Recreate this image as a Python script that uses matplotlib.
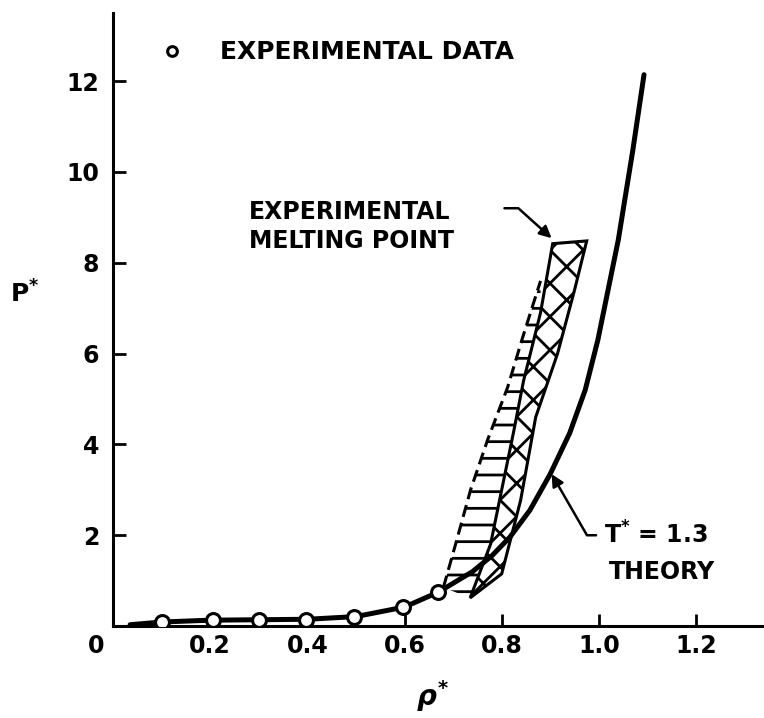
import matplotlib
matplotlib.use("Agg")
import matplotlib.pyplot as plt

# theory curve, T* = 1.3
theory_rho = [0.035, 0.10, 0.20, 0.30, 0.40, 0.50, 0.60, 0.67, 0.74, 0.78, 0.817, 0.858,
              0.90, 0.94, 0.972, 0.998, 1.019, 1.040, 1.070, 1.093]
theory_p = [0.03, 0.09, 0.13, 0.14, 0.15, 0.21, 0.42, 0.75, 1.20, 1.55, 1.96, 2.55,
            3.35, 4.25, 5.20, 6.30, 7.40, 8.50, 10.48, 12.14]

# experimental data points
exp_rho = [0.10, 0.206, 0.301, 0.398, 0.497, 0.596, 0.668]
exp_p = [0.09, 0.13, 0.13, 0.13, 0.20, 0.42, 0.75]

# experimental melting point band: left (dashed) edge, middle edge, right edge
left_rho = [0.68, 0.705, 0.736, 0.771, 0.812, 0.843, 0.88]
left_p = [0.85, 1.8, 3.0, 4.1, 5.25, 6.35, 7.6]
mid_rho = [0.735, 0.777, 0.80, 0.825, 0.845, 0.88, 0.905]
mid_p = [0.62, 1.8, 3.0, 4.3, 5.4, 6.9, 8.42]
right_rho = [0.80, 0.839, 0.87, 0.915, 0.95, 0.975]
right_p = [1.15, 2.77, 4.6, 6.0, 7.4, 8.48]

xticks = [0.2, 0.4, 0.6, 0.8, 1.0, 1.2]
yticks = [2, 4, 6, 8, 10, 12]

plt.rcParams["font.family"] = "DejaVu Sans"
plt.rcParams["font.weight"] = "bold"
plt.rcParams["axes.labelweight"] = "bold"
plt.rcParams["mathtext.fontset"] = "dejavusans"
plt.rcParams["hatch.linewidth"] = 2.0

fig = plt.figure(figsize=(7.64, 7.18), dpi=100)
ax = fig.add_axes([0.148, 0.128, 0.852, 0.854])

# melting band
ax.fill(left_rho + mid_rho[:6][::-1], left_p + mid_p[:6][::-1], facecolor="white",
        edgecolor="black", hatch="-", linewidth=0, zorder=2)
ax.plot(left_rho, left_p, color="black", lw=2.2, ls=(0, (4, 2)), zorder=2)
ax.fill(mid_rho + right_rho[::-1], mid_p + right_p[::-1], facecolor="white",
        edgecolor="black", hatch="x", linewidth=2.2, zorder=3)

# theory + data
ax.plot(theory_rho, theory_p, color="black", lw=3.6, solid_capstyle="round",
        solid_joinstyle="round", zorder=4)
ax.plot(exp_rho, exp_p, ls="none", marker="o", ms=10, mfc="white", mec="black",
        mew=2.2, zorder=5, label="EXPERIMENTAL DATA")

ax.set_xlim(0, 1.34)
ax.set_ylim(0, 13.5)
ax.set_xticks(xticks)
ax.set_xticklabels([f"{v:.1f}" for v in xticks])
ax.set_yticks(yticks)
ax.set_yticklabels([str(v) for v in yticks])
for s in ["top", "right"]:
    ax.spines[s].set_visible(False)
for s in ["left", "bottom"]:
    ax.spines[s].set_linewidth(2.2)
ax.tick_params(axis="both", direction="in", length=9, width=2, labelsize=17)
ax.tick_params(axis="x", pad=6)
ax.tick_params(axis="y", pad=10)

ax.annotate("0", xy=(0, 0), xytext=(-12, -14), textcoords="offset points",
            ha="center", va="center", fontsize=17)

ax.set_ylabel(r"P$^{\mathbf{*}}$", rotation=0, fontsize=18)
ax.yaxis.set_label_coords(-0.135, 0.52)
ax.set_xlabel(r"$\rho^{*}$", fontsize=20)
ax.xaxis.set_label_coords(0.49, -0.085)

ax.legend(loc="upper left", bbox_to_anchor=(0.036, 0.992), frameon=False,
          fontsize=18, markerscale=0.7, handlelength=1.0, handletextpad=1.45)

# annotations
ax.text(0.28, 8.8, "EXPERIMENTAL\nMELTING POINT", fontsize=17, va="center",
        ha="left", linespacing=1.3)
ax.annotate("", xy=(0.907, 8.5), xytext=(0.80, 9.2),
            arrowprops=dict(arrowstyle="-|>", color="black", lw=1.8,
                            connectionstyle="angle,angleA=0,angleB=-42,rad=0",
                            mutation_scale=18))
ax.annotate("", xy=(0.900, 3.40), xytext=(1.0, 2.0),
            arrowprops=dict(arrowstyle="-|>", color="black", lw=1.8,
                            connectionstyle="angle,angleA=0,angleB=120,rad=0",
                            mutation_scale=18))
ax.text(1.01, 2.0, r"T$^{\mathbf{*}}$ = 1.3", fontsize=17, va="center", ha="left")
ax.text(1.02, 1.2, "THEORY", fontsize=17, va="center", ha="left")

fig.savefig("out.png", dpi=100)
